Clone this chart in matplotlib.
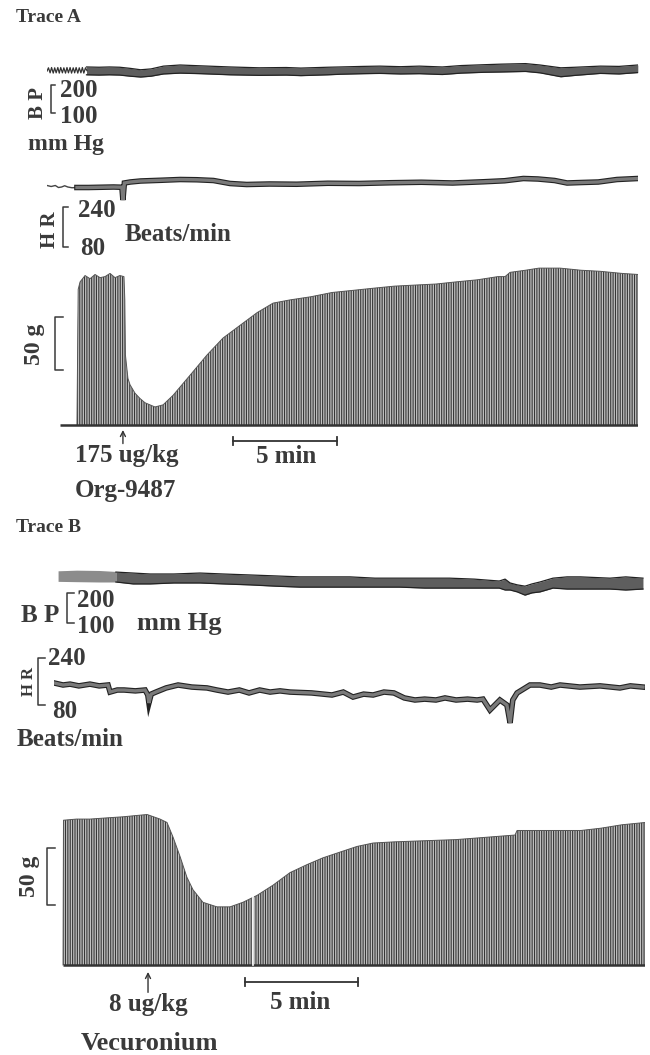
import numpy as np
import matplotlib
matplotlib.use('Agg')
import matplotlib.pyplot as plt
import matplotlib.patheffects as pe

plt.rcParams['font.family'] = ['Liberation Serif', 'DejaVu Serif']
plt.rcParams['font.weight'] = 'bold'
plt.rcParams['hatch.linewidth'] = 0.8

# ---------------- Trace A (Org-9487) ----------------
# time in min, pressure in mmHg, rate in beats/min, twitch tension in g
bp_a_pulse_t = [0.00, 0.07, 0.15, 0.22, 0.30, 0.37, 0.44, 0.52, 0.59, 0.66, 0.74, 0.81, 0.89, 0.96,
                1.03, 1.11, 1.18, 1.26, 1.33, 1.40, 1.48, 1.55, 1.63, 1.70, 1.77, 1.85, 1.92]
bp_a_pulse = [128, 140, 122, 141, 121, 140, 122, 141, 121, 141, 122, 140, 121, 141,
              122, 141, 121, 140, 122, 141, 121, 140, 122, 141, 121, 140, 130]

bp_a_t = [1.9, 2.5, 3.0, 3.5, 4.0, 4.5, 5.0, 5.6, 6.4, 7.4, 8.8, 10.2, 11.5, 12.2, 13.5, 14.1,
          15.2, 16.0, 17.0, 17.9, 19.0, 19.9, 21.0, 21.8, 23.0, 23.7, 24.7, 25.4, 26.6, 27.5, 28.4]
bp_a_hi = [143, 142, 143, 142, 138, 133, 136, 146, 150, 147, 143, 140, 141, 139, 142, 143,
           145, 146, 144, 146, 143, 148, 151, 153, 155, 150, 140, 142, 146, 145, 150]
bp_a_lo = [115, 114, 115, 114, 110, 107, 110, 118, 121, 119, 115, 113, 114, 112, 115, 117,
           119, 120, 118, 119, 116, 121, 124, 125, 127, 122, 108, 113, 120, 118, 123]

hr_a_pre_t = [0.0, 0.2, 0.4, 0.55, 0.7, 0.85, 1.0, 1.2, 1.44]
hr_a_pre = [186, 182, 186, 178, 180, 185, 180, 177, 178]
hr_a_t = [1.44, 2.0, 2.6, 3.2, 3.6, 3.65, 3.72, 4.0, 4.5, 5.5, 6.4, 7.2, 8.0, 8.8, 9.6, 10.7,
          12.0, 13.5, 15.0, 16.5, 18.0, 19.5, 21.0, 22.0, 22.9, 23.6, 24.4, 25.0, 25.7, 26.5, 27.4, 28.4]
hr_a = [178, 178, 179, 180, 179, 128, 196, 200, 204, 207, 210, 209, 206, 194, 190, 192,
        191, 195, 194, 197, 199, 196, 201, 205, 214, 212, 206, 196, 198, 200, 210, 214]

tw_a_t = [1.44, 1.50, 1.59, 1.83, 2.07, 2.31, 2.55, 2.79, 3.03, 3.27, 3.50, 3.70, 3.74, 3.77,
          3.89, 3.99, 4.23, 4.47, 4.71, 4.95, 5.19, 5.58, 6.06, 6.88, 7.69, 8.46, 9.28, 10.10,
          10.87, 11.68, 12.69, 13.70, 14.70, 15.67, 16.70, 17.69, 18.70, 19.66, 20.70, 21.68,
          22.02, 22.26, 23.00, 23.65, 24.66, 25.67, 26.59, 27.64, 28.41]
tw_a = [0, 128, 135, 141, 138, 142, 139, 140, 143, 139, 141, 140, 118, 66,
        44, 38, 30, 25, 21, 19, 17, 19, 28, 47, 66, 82, 94, 106,
        115, 118, 121, 125, 127, 129, 131, 132, 133, 135, 137, 140,
        140, 144, 146, 148, 148, 146, 145, 143, 142]
tw_a_base_start = 0.63
dose_a_t = 3.65
dose_a = ['175 ug/kg', 'Org-9487']
bar_a = [8.94, 13.94]

# ---------------- Trace B (Vecuronium) ----------------
bp_b_pre_t = [0.18, 1.0, 2.0, 2.74]
bp_b_pre_hi = [160, 162, 161, 158]
bp_b_pre_lo = [127, 126, 125, 125]
bp_b_t = [2.74, 3.5, 4.25, 5.3, 6.46, 7.5, 8.67, 9.8, 10.88, 12.0, 13.1, 14.2, 15.3, 16.4, 17.5,
          18.6, 19.7, 19.96, 20.18, 20.5, 20.84, 21.15, 21.5, 22.08, 22.7, 23.3, 24.6, 25.3, 26.06]
bp_b_hi = [156, 153, 150, 150, 153, 150, 147, 144, 141, 141, 141, 137, 137, 137, 137,
           134, 128, 134, 122, 116, 112, 119, 125, 137, 141, 141, 137, 141, 137]
bp_b_lo = [125, 119, 119, 122, 122, 119, 116, 112, 109, 109, 109, 109, 109, 106, 106,
           106, 106, 100, 100, 94, 84, 91, 94, 106, 103, 103, 103, 100, 103]

hr_b_t = [0.00, 0.40, 0.71, 1.10, 1.59, 2.00, 2.39, 2.48, 2.80, 3.10,
          3.60, 4.03, 4.15, 4.20, 4.30, 4.51, 4.96, 5.49, 6.10, 6.77,
          7.20, 7.70, 8.20, 8.63, 9.10, 9.56, 10.00, 10.44, 11.40, 12.30,
          12.80, 13.23, 13.70, 14.12, 14.60, 15.04, 15.50, 15.97, 16.40, 16.90,
          17.30, 17.79, 18.30, 18.72, 18.98, 19.29, 19.73, 20.04, 20.18, 20.30,
          20.49, 21.06, 21.50, 22.00, 22.39, 23.27, 24.16, 25.04, 25.50, 26.06]
hr_b = [214, 207, 210, 204, 210, 204, 207, 183, 190, 190,
        187, 190, 173, 146, 176, 183, 197, 207, 200, 197,
        190, 183, 190, 180, 190, 183, 187, 183, 180, 173,
        183, 166, 176, 173, 183, 180, 163, 156, 159, 156,
        163, 156, 159, 156, 159, 122, 156, 139, 78, 156,
        180, 207, 207, 200, 207, 200, 204, 197, 204, 200]

tw_b_t = [0.40, 0.42, 1.00, 1.59, 2.30, 3.05, 3.58, 4.12, 4.69, 5.00,
          5.27, 5.58, 5.88, 6.15, 6.59, 7.21, 7.79, 8.36, 8.98, 9.69,
          10.44, 11.19, 11.90, 12.65, 13.41, 14.12, 15.04, 16.40, 17.79, 19.10,
          20.40, 20.49, 21.90, 23.32, 24.20, 25.13, 26.15]
tw_b = [0, 127, 128, 128, 129, 130, 131, 132, 128, 125,
        112, 95, 77, 66, 55, 51, 51, 55, 61, 70,
        81, 88, 94, 99, 104, 107, 108, 109, 110, 112,
        114, 118, 118, 118, 120, 123, 125]
tw_b_gap = 8.8
dose_b_t = 4.16
dose_b = ['8 ug/kg', 'Vecuronium']
bar_b = [8.45, 13.45]

# ---------------- layout helpers ----------------
W, H = 650, 1055
fig = plt.figure(figsize=(W / 100, H / 100), dpi=100)
ink = '#3a3a3a'


def px_axes(x0, y0, x1, y1, xlim, yref, vref, k):
    # axes placed by pixel box; y scale given as k pixels per unit with value vref at pixel yref
    ax = fig.add_axes([x0 / W, 1 - y1 / H, (x1 - x0) / W, (y1 - y0) / H])
    ax.set_xlim(*xlim)
    ax.set_ylim(vref - (y1 - yref) / k, vref + (yref - y0) / k)
    ax.set_axis_off()
    return ax


def band(ax, t, lo, hi, fc='#5e5e5e'):
    ax.fill_between(t, lo, hi, color=fc, lw=0)
    ax.plot(t, hi, color='#222222', lw=0.9)
    ax.plot(t, lo, color='#222222', lw=0.9)


def hr_line(ax, t, v):
    ax.plot(t, v, color='#7a7a7a', lw=2.4, solid_joinstyle='miter',
            path_effects=[pe.Stroke(linewidth=4.0, foreground='#222222'), pe.Normal()])


def twitch(ax, t, v, base_t0, t_end):
    ax.fill_between(t, 0, v, facecolor='#c2c2c2', edgecolor='#363636', hatch='|||||||', lw=0)
    ax.plot(t, v, color='#555555', lw=0.7)
    ax.plot([base_t0, t_end], [0, 0], color='#333333', lw=1.8, solid_capstyle='butt')


def scale_bar(ax, t, y, tick):
    ax.plot(t, [y, y], color='#333333', lw=1.3, clip_on=False)
    for x in t:
        ax.plot([x, x], [y - tick, y + tick], color='#333333', lw=1.3, clip_on=False)


def arrow(ax, t, tip, tail):
    ax.annotate('', xy=(t, tip), xytext=(t, tail), annotation_clip=False,
                arrowprops=dict(arrowstyle='->', lw=1.0, color='#333333',
                                shrinkA=0, shrinkB=0, mutation_scale=9))


# overlay in pixel units for labels and brackets
ov = fig.add_axes([0, 0, 1, 1])
ov.set_xlim(0, W)
ov.set_ylim(H, 0)
ov.set_axis_off()


def label(x, y, s, size, **kw):
    ov.text(x, y, s, fontsize=size, color=ink, va='baseline', ha='left', **kw)


def vlabel(x, y, s, size):
    ov.text(x, y, s, fontsize=size, color=ink, rotation=90, rotation_mode='anchor',
            ha='center', va='baseline')


def bracket(x0, x1, y0, y1):
    ov.plot([x1, x0, x0, x1], [y0, y0, y1, y1], color=ink, lw=1.1)


# ---------------- Trace A ----------------
xa = (0, 28.41)
ax = px_axes(47, 50, 638, 90, xa, 65, 150, 0.28)
ax.plot(bp_a_pulse_t, bp_a_pulse, color='#333333', lw=0.9)
band(ax, bp_a_t, bp_a_lo, bp_a_hi)

ax = px_axes(47, 165, 638, 210, xa, 182, 200, 0.25)
ax.plot(hr_a_pre_t, hr_a_pre, color='#444444', lw=1.0)
hr_line(ax, hr_a_t, hr_a)

ax = px_axes(47, 255, 638, 435, xa, 425, 0, 1.06)
twitch(ax, tw_a_t, tw_a, tw_a_base_start, xa[1])
scale_bar(ax, bar_a, -15.1, 3.8)
arrow(ax, dose_a_t, -4.7, -17.5)

label(16, 22, 'Trace A', 14)
vlabel(43, 103, 'B P', 15)
bracket(51, 55, 85, 113)
label(60, 97, '200', 18)
label(60, 123, '100', 18)
label(28, 150, 'mm Hg', 17)
vlabel(55, 230, 'H R', 15)
bracket(63, 68, 207, 247)
label(78, 217, '240', 18)
label(80, 255, '80', 18)
label(125, 241, 'Beats/min', 18)
vlabel(40, 344, '50 g', 17)
bracket(55, 63, 317, 370)
label(75, 462, dose_a[0], 18)
label(75, 497, dose_a[1], 18)
label(256, 463, '5 min', 18)

# ---------------- Trace B ----------------
xb = (0, 26.15)
ax = px_axes(54, 560, 645, 605, xb, 574, 150, 0.32)
ax.fill_between(bp_b_pre_t, bp_b_pre_lo, bp_b_pre_hi, color='#8c8c8c', lw=0)
band(ax, bp_b_t, bp_b_lo, bp_b_hi)

ax = px_axes(54, 640, 645, 735, xb, 690, 190, 0.294)
hr_line(ax, hr_b_t, hr_b)

ax = px_axes(54, 800, 645, 975, xb, 965, 0, 1.14)
twitch(ax, tw_b_t, tw_b, tw_b_t[0], xb[1])
ax.axvline(tw_b_gap, ymin=0.06, ymax=0.85, color='white', lw=1.2)
scale_bar(ax, bar_b, -14.9, 3.5)
arrow(ax, dose_b_t, -6.1, -24.0)

label(16, 532, 'Trace B', 14)
label(21, 622, 'B P', 18)
bracket(67, 74, 593, 623)
label(77, 607, '200', 18)
label(77, 633, '100', 18)
label(137, 630, 'mm Hg', 19)
vlabel(33, 682, 'H R', 12)
bracket(38, 45, 658, 705)
label(48, 665, '240', 18)
label(52, 718, '80', 18)
label(17, 746, 'Beats/min', 18)
vlabel(35, 876, '50 g', 17)
bracket(47, 55, 848, 905)
label(109, 1011, dose_b[0], 18)
label(81, 1050, dose_b[1], 19)
label(270, 1009, '5 min', 18)

fig.savefig('out.png', dpi=100)
